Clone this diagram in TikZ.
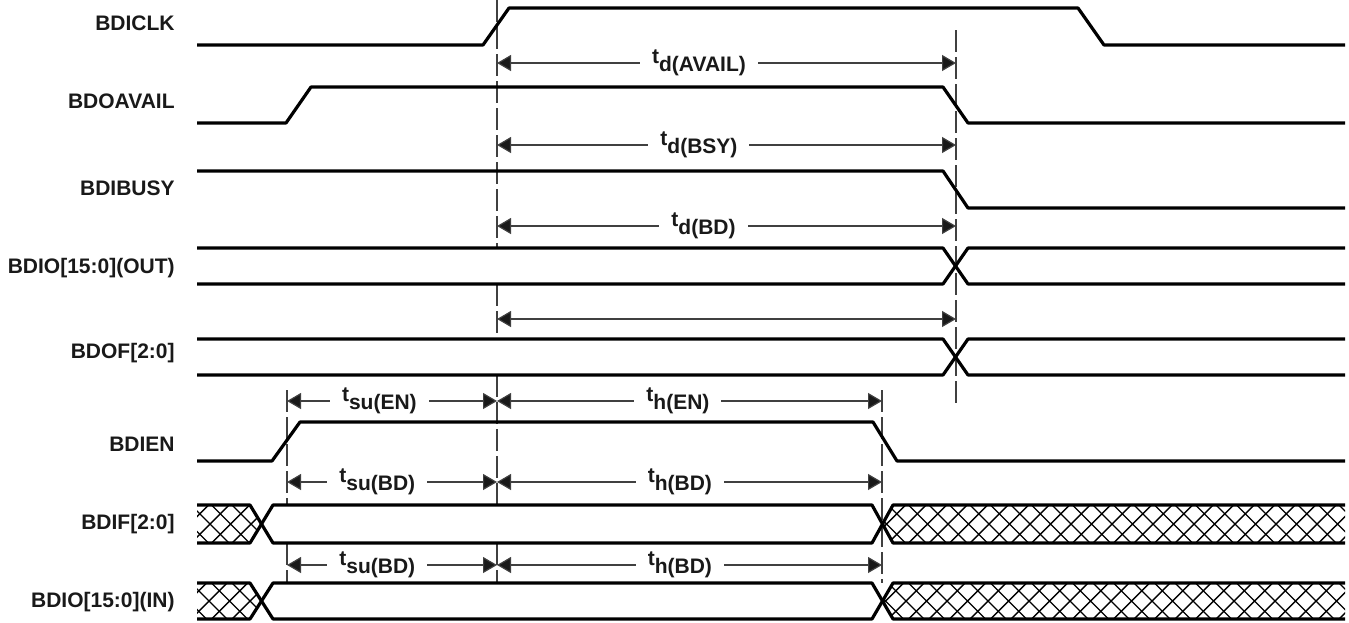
\documentclass[tikz,border=0pt]{standalone}
\usepackage{fontspec}
\setmainfont{Liberation Sans}
\usetikzlibrary{arrows.meta}

\newcommand{\tsub}[2]{#1\raisebox{-.4em}{#2}}

\begin{document}
\begin{tikzpicture}[x=0.5pt, y=-0.5pt, font=\fontsize{10.5}{12}\selectfont\bfseries,
        sig/.style={line width=1.6pt, line join=round},
        vline/.style={black!75, line width=0.6pt, dash pattern=on 11pt off 2.5pt},
        dim/.style={<->, black!75, line width=0.6pt, >={Triangle[length=7pt,width=8pt,fill=black!90]}},
        tlbl/.style={fill=white, anchor=base, inner xsep=6pt, inner ysep=0pt, text=black!90},
        sname/.style={anchor=base east, inner sep=0pt, text=black!90},
        hatch/.style={line width=0.7pt}]

    \useasboundingbox (0,0) rectangle (1349,622);

    % signal names
    \node[sname] at (175,30) (clk) {BDICLK};
    \node[sname] at (175,108) (avail) {BDOAVAIL};
    \node[sname] at (175,195) (busy) {BDIBUSY};
    \node[sname] at (175,273) (dout) {BDIO[15:0](OUT)};
    \node[sname] at (175,358) (bdof) {BDOF[2:0]};
    \node[sname] at (175,451) (en) {BDIEN};
    \node[sname] at (175,529) (bdif) {BDIF[2:0]};
    \node[sname] at (175,607) (din) {BDIO[15:0](IN)};

    % reference lines
    \draw[vline] (497,0) -- (497,248) (497,284) -- (497,339) (497,375) -- (497,505) (497,543) -- (497,583);
    \draw[vline] (956,30) -- (956,405);
    \draw[vline] (287,390) -- (287,505) (287,543) -- (287,583);
    \draw[vline] (882,390) -- (882,583);

    % hatched (don't care) parts
    \foreach \ya/\yb in {505/543, 583/619} {
        \begin{scope}
            \clip (197,\ya) -- (250,\ya) -- (261.5,{(\ya+\yb)/2}) -- (250,\yb) -- (197,\yb) -- cycle
                  (882.5,{(\ya+\yb)/2}) -- (893,\ya) -- (1345,\ya) -- (1345,\yb) -- (893,\yb) -- cycle;
            \foreach \x in {150,170.5,...,1360}
                \draw[hatch] (\x,\ya) -- ++(40,40) (\x,\yb) -- ++(40,-40);
        \end{scope}
    }

    % waveforms
    \draw[sig] (197,45) -- (483,45) -- (509,8) -- (1078,8) -- (1104,45) -- (1345,45);
    \draw[sig] (197,123) -- (286,123) -- (311,87) -- (943,87) -- (968,123) -- (1345,123);
    \draw[sig] (197,171) -- (943,171) -- (968,208) -- (1345,208);
    \draw[sig] (197,248) -- (943,248) -- (968,284) -- (1345,284);
    \draw[sig] (197,284) -- (943,284) -- (968,248) -- (1345,248);
    \draw[sig] (197,339) -- (943,339) -- (968,375) -- (1345,375);
    \draw[sig] (197,375) -- (943,375) -- (968,339) -- (1345,339);
    \draw[sig] (197,461) -- (272,461) -- (300,422) -- (873,422) -- (897,461) -- (1345,461);
    \draw[sig] (197,505) -- (250,505) -- (273,543) -- (872,543) -- (893,505) -- (1345,505);
    \draw[sig] (197,543) -- (250,543) -- (273,505) -- (872,505) -- (893,543) -- (1345,543);
    \draw[sig] (197,583) -- (250,583) -- (273,619) -- (872,619) -- (893,583) -- (1345,583);
    \draw[sig] (197,619) -- (250,619) -- (273,583) -- (872,583) -- (893,619) -- (1345,619);

    % timing marks
    \coordinate (a0) at (497,63);  \coordinate (a1) at (956,63);
    \coordinate (b0) at (497,145); \coordinate (b1) at (956,145);
    \coordinate (c0) at (497,226); \coordinate (c1) at (956,226);
    \coordinate (d0) at (497,319); \coordinate (d1) at (956,319);
    \coordinate (e0) at (287,401); \coordinate (e1) at (497,401); \coordinate (e2) at (882,401);
    \coordinate (f0) at (287,482); \coordinate (f1) at (497,482); \coordinate (f2) at (882,482);
    \coordinate (g0) at (287,565); \coordinate (g1) at (497,565); \coordinate (g2) at (882,565);

    \path[dim] (a0) edge node[tlbl, pos=.44] (tavail) {\tsub{t}{d(AVAIL)}} (a1);
    \path[dim] (b0) edge node[tlbl, pos=.44] (tbsy) {\tsub{t}{d(BSY)}} (b1);
    \path[dim] (c0) edge node[tlbl, pos=.45] (tbd) {\tsub{t}{d(BD)}} (c1);
    \path[dim] (d0) edge (d1);
    \path[dim] (e0) edge node[tlbl, pos=.44] (tsuen) {\tsub{t}{su(EN)}} (e1);
    \path[dim] (e1) edge node[tlbl, pos=.47] (then) {\tsub{t}{h(EN)}} (e2);
    \path[dim] (f0) edge node[tlbl, pos=.43] (tsubd) {\tsub{t}{su(BD)}} (f1);
    \path[dim] (f1) edge node[tlbl, pos=.475] (thbd) {\tsub{t}{h(BD)}} (f2);
    \path[dim] (g0) edge node[tlbl, pos=.43] (tsubdi) {\tsub{t}{su(BD)}} (g1);
    \path[dim] (g1) edge node[tlbl, pos=.475] (thbdi) {\tsub{t}{h(BD)}} (g2);
\end{tikzpicture}
\end{document}
